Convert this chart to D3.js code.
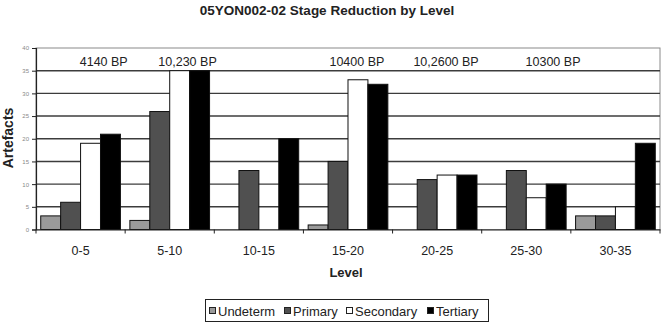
<!DOCTYPE html>
<html>
<head>
<meta charset="utf-8">
<script src="https://cdn.jsdelivr.net/npm/d3@7"></script>
<style>
  html, body { margin: 0; padding: 0; background: #fff; }
  svg { display: block; font-family: "Liberation Sans", Arial, sans-serif; }
</style>
</head>
<body>
<svg id="chart" width="662" height="324"></svg>
<script>
// Stage reduction counts per excavation level
const levels = ["0-5", "5-10", "10-15", "15-20", "20-25", "25-30", "30-35"];
const stages = ["Undeterm", "Primary", "Secondary", "Tertiary"];
const undeterm  = [3, 2, 0, 1, 0, 0, 3];
const primary   = [6, 26, 13, 15, 11, 13, 3];
const secondary = [19, 35, 0, 33, 12, 7, 5];
const tertiary  = [21, 35, 20, 32, 12, 10, 19];
const yTicks = [0, 5, 10, 15, 20, 25, 30, 35, 40];
// Radiocarbon date annotations, placed by level
const dateLabels = ["4140 BP", "10,230 BP", "10400 BP", "10,2600 BP", "10300 BP"];
const dateLevels = ["0-5", "5-10", "15-20", "20-25", "25-30"];
const dateShift = [0.26, 0.2, 0.1, 0.1, 0.3];

const stageColors = ["#9a9a9a", "#505050", "#ffffff", "#000000"];
const seriesValues = [undeterm, primary, secondary, tertiary];

const svg = d3.select("#chart");
const m = { left: 36, right: 660, top: 48, bottom: 229.5 };

const x = d3.scaleBand().domain(levels).range([m.left, m.right]).padding(0);
const bw = x.bandwidth();
const xi = d3.scaleBand().domain(stages).range([bw * 0.053, bw * 0.947]).padding(0);
const y = d3.scaleLinear().domain([0, 40]).range([m.bottom, m.top]);

// plot frame
svg.append("rect")
  .attr("x", m.left).attr("y", m.top)
  .attr("width", m.right - m.left).attr("height", m.bottom - m.top)
  .attr("fill", "#fff").attr("stroke", "#8a8a8a").attr("stroke-width", 1);

// horizontal gridlines
svg.append("g").selectAll("line")
  .data(yTicks.filter(t => t > 0 && t < 40))
  .join("line")
  .attr("x1", m.left).attr("x2", m.right)
  .attr("y1", d => y(d)).attr("y2", d => y(d))
  .attr("stroke", "#3c3c3c").attr("stroke-width", 1.4);

// bars
const groups = svg.append("g").selectAll("g")
  .data(levels)
  .join("g")
  .attr("transform", d => `translate(${x(d)},0)`);

groups.selectAll("rect")
  .data((lv, i) => stages.map((s, j) => ({ s, j, v: seriesValues[j][i] })).filter(d => d.v > 0))
  .join("rect")
  .attr("x", d => xi(d.s))
  .attr("width", xi.bandwidth())
  .attr("y", d => y(d.v))
  .attr("height", d => y(0) - y(d.v))
  .attr("fill", d => stageColors[d.j])
  .attr("stroke", "#111").attr("stroke-width", 1);

// y axis
const yAxis = d3.axisLeft(y).tickValues(yTicks).tickSize(4).tickPadding(3);
const gy = svg.append("g").attr("transform", `translate(${m.left},0)`).call(yAxis);
gy.select(".domain").attr("stroke", "#222").attr("stroke-width", 1.2);
gy.selectAll(".tick line").attr("stroke", "#222");
gy.selectAll(".tick text").attr("font-size", 6).attr("fill", "#888")
  .attr("font-family", "Liberation Sans, Arial, sans-serif");

// x axis
const xAxis = d3.axisBottom(x).tickSize(0).tickPadding(0);
const gx = svg.append("g").attr("transform", `translate(0,${m.bottom})`).call(xAxis);
gx.select(".domain").attr("stroke", "#222").attr("stroke-width", 1.2);
gx.selectAll(".tick text").attr("font-size", 12.5).attr("fill", "#222")
  .attr("y", 17).attr("font-family", "Liberation Sans, Arial, sans-serif");
// tick marks on category boundaries
svg.append("g").selectAll("line")
  .data(levels.concat(["end"]))
  .join("line")
  .attr("x1", (d, i) => i < levels.length ? x(d) : m.right)
  .attr("x2", (d, i) => i < levels.length ? x(d) : m.right)
  .attr("y1", m.bottom).attr("y2", m.bottom + 4)
  .attr("stroke", "#222").attr("stroke-width", 1);

// date annotations
svg.append("g").selectAll("text")
  .data(dateLabels)
  .join("text")
  .attr("x", (d, i) => x(dateLevels[i]) + bw * (0.5 + dateShift[i]))
  .attr("y", 66)
  .attr("text-anchor", "middle")
  .attr("font-size", 12.5)
  .attr("fill", "#222")
  .text(d => d);

// title
svg.append("text")
  .attr("x", 327).attr("y", 15)
  .attr("text-anchor", "middle")
  .attr("font-size", 13.5).attr("font-weight", "bold").attr("fill", "#222")
  .text("05YON002-02 Stage Reduction by Level");

// axis titles
svg.append("text")
  .attr("transform", "translate(13,138) rotate(-90)")
  .attr("text-anchor", "middle")
  .attr("font-size", 14).attr("font-weight", "bold").attr("fill", "#222")
  .text("Artefacts");

svg.append("text")
  .attr("x", 346).attr("y", 277)
  .attr("text-anchor", "middle")
  .attr("font-size", 13).attr("font-weight", "bold").attr("fill", "#222")
  .text("Level");

// legend
const legend = svg.append("g");
legend.append("rect")
  .attr("x", 205.5).attr("y", 299.5).attr("width", 283).attr("height", 22)
  .attr("fill", "#fff").attr("stroke", "#222").attr("stroke-width", 1);
const legendX = [209, 284, 346, 427];
const items = legend.selectAll("g.item")
  .data(stages)
  .join("g")
  .attr("class", "item")
  .attr("transform", (d, i) => `translate(${legendX[i]},311)`);
items.append("rect")
  .attr("x", 0.5).attr("y", -3.5).attr("width", 6).attr("height", 6)
  .attr("fill", (d, i) => stageColors[i]).attr("stroke", "#222");
items.append("text")
  .attr("x", 9).attr("y", 4.5)
  .attr("font-size", 13).attr("fill", "#222")
  .text(d => d);
</script>
</body>
</html>
